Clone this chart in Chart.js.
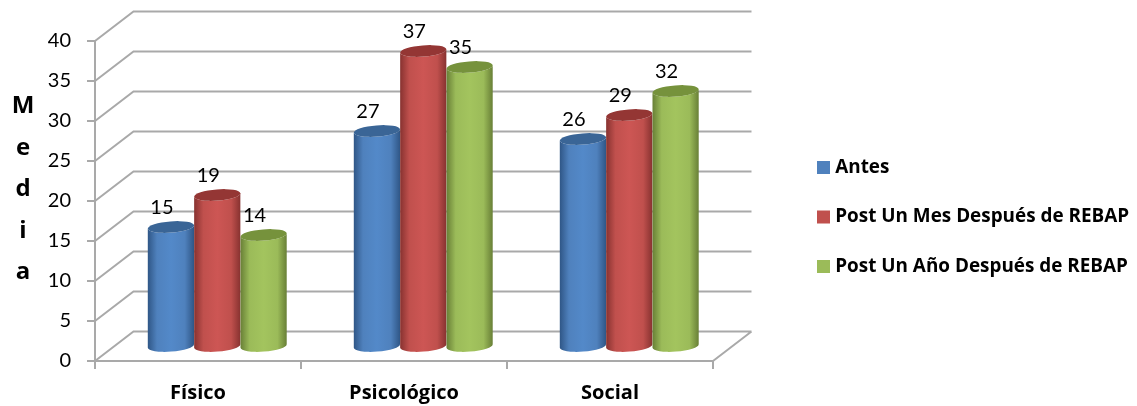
<!DOCTYPE html>
<html lang="es">
<head>
<meta charset="utf-8">
<title>Media por dimensión</title>
<script src="https://cdn.jsdelivr.net/npm/chart.js@4/dist/chart.umd.min.js"></script>
<style>
  html, body { margin: 0; padding: 0; background: #ffffff; }
  canvas { display: block; }
</style>
</head>
<body>
<canvas id="chart" width="1137" height="406"></canvas>
<script>
const categories = ['Físico', 'Psicológico', 'Social'];
const seriesNames = ['Antes', 'Post Un Mes Después de REBAP', 'Post Un Año Después de REBAP'];
const antes = [15, 27, 26];
const postUnMes = [19, 37, 29];
const postUnAno = [14, 35, 32];
const axisTitleLetters = ['M', 'e', 'd', 'i', 'a'];

const FONT = 'Lato, Carlito, Calibri, sans-serif';
const BOLD_FONT = '"Open Sans", Lato, sans-serif';
const GRID = '#a9a9a9';
// Depth of the box: the walls sit this far behind the front plane.
const DEPTH_X = 38.5;
const DEPTH_Y = -29.5;
// Cylinders stand midway along the floor's depth.
const BAR_SHIFT_X = DEPTH_X / 2;
const BAR_SHIFT_Y = DEPTH_Y / 2 + 0.75;
const TILT = -0.08;
const CAP_RY = 5.6;

const palette = [
  { base: '#4f81bd', light: '#5389c9', edge: '#2f5686', cap: '#3a6596' },
  { base: '#c0504d', light: '#cd5654', edge: '#873230', cap: '#943634' },
  { base: '#9bbb59', light: '#a3c45e', edge: '#687f36', cap: '#76923c' }
];

function wallGrid(chart) {
  const { ctx, scales: { x, y } } = chart;
  ctx.save();
  ctx.strokeStyle = GRID;
  ctx.lineWidth = 2;
  ctx.beginPath();
  y.ticks.forEach(t => {
    const py = y.getPixelForValue(t.value);
    ctx.moveTo(x.left, py);
    ctx.lineTo(x.left + DEPTH_X, py + DEPTH_Y);
    ctx.lineTo(x.right + DEPTH_X, py + DEPTH_Y);
  });
  const floor = y.getPixelForValue(0);
  ctx.moveTo(x.right, floor);
  ctx.lineTo(x.right + DEPTH_X, floor + DEPTH_Y);
  ctx.stroke();
  ctx.restore();
}

function cylinder(ctx, bar, colors) {
  const { x, y, base, width } = bar.getProps(['x', 'y', 'base', 'width'], true);
  const cx = x + BAR_SHIFT_X;
  const top = y + BAR_SHIFT_Y;
  const bottom = base + BAR_SHIFT_Y;
  const rx = width / 2;

  const shade = ctx.createLinearGradient(cx - rx, 0, cx + rx, 0);
  shade.addColorStop(0, colors.edge);
  shade.addColorStop(0.2, colors.base);
  shade.addColorStop(0.5, colors.light);
  shade.addColorStop(0.8, colors.base);
  shade.addColorStop(1, colors.edge);

  ctx.beginPath();
  ctx.ellipse(cx, bottom, rx, CAP_RY, TILT, 0, Math.PI);
  ctx.ellipse(cx, top, rx, CAP_RY, TILT, Math.PI, 0, true);
  ctx.closePath();
  ctx.fillStyle = shade;
  ctx.fill();

  ctx.beginPath();
  ctx.ellipse(cx, top, rx, CAP_RY, TILT, 0, Math.PI * 2);
  ctx.fillStyle = colors.cap;
  ctx.fill();
}

const box3d = {
  id: 'box3d',
  afterLayout(chart) {
    // The plot keeps its reserved space; the legend is then placed beside it.
    const legend = chart.legend;
    const labels = legend.options.labels;
    const h = legend.height;
    legend.left = 821.25 - labels.padding;
    legend.right = chart.width;
    legend.width = legend.right - legend.left;
    legend.top = 167.5 - labels.font.size / 2 - labels.padding;
    legend.bottom = legend.top + h;
  },
  beforeDatasetsDraw(chart) {
    const ctx = chart.ctx;
    wallGrid(chart);
    chart.data.datasets.forEach((ds, i) => {
      chart.getDatasetMeta(i).data.forEach(bar => cylinder(ctx, bar, palette[i]));
    });
    return false;
  },
  afterDraw(chart) {
    const ctx = chart.ctx;
    ctx.save();
    ctx.fillStyle = '#000000';
    ctx.textAlign = 'center';
    ctx.textBaseline = 'alphabetic';

    // Value labels, up and to the left of each cap
    ctx.font = '20px ' + FONT;
    chart.data.datasets.forEach((ds, i) => {
      chart.getDatasetMeta(i).data.forEach((bar, j) => {
        const p = bar.getProps(['x', 'y'], true);
        ctx.fillText(String(ds.data[j]), p.x + BAR_SHIFT_X - 9, p.y + BAR_SHIFT_Y - 13);
      });
    });

    // Axis title, one letter per line
    ctx.font = 'bold 24px ' + BOLD_FONT;
    axisTitleLetters.forEach((ch, i) => {
      ctx.fillText(ch, 23, 113 + i * 41.5);
    });
    ctx.restore();
  }
};

new Chart(document.getElementById('chart'), {
  type: 'bar',
  data: {
    labels: categories,
    datasets: [
      { label: seriesNames[0], data: antes, backgroundColor: palette[0].base },
      { label: seriesNames[1], data: postUnMes, backgroundColor: palette[1].base },
      { label: seriesNames[2], data: postUnAno, backgroundColor: palette[2].base }
    ]
  },
  plugins: [box3d],
  options: {
    responsive: false,
    animation: false,
    layout: { padding: { left: 0, top: 41, right: 124, bottom: 0 } },
    datasets: { bar: { categoryPercentage: 0.675, barPercentage: 1 } },
    scales: {
      x: {
        afterFit(s) { s.height = 45; },
        border: { color: GRID, width: 2 },
        grid: { color: GRID, lineWidth: 2, drawOnChartArea: false, tickLength: 8, offset: true },
        ticks: { color: '#000000', padding: 12, font: { family: BOLD_FONT, size: 20, weight: 'bold' } }
      },
      y: {
        min: 0,
        max: 40,
        afterFit(s) { s.width = 95; },
        border: { color: GRID, width: 2 },
        grid: { color: GRID, lineWidth: 2, drawOnChartArea: false, tickLength: 8 },
        ticks: { stepSize: 5, color: '#000000', padding: 16, font: { family: FONT, size: 20 } }
      }
    },
    plugins: {
      tooltip: { enabled: false },
      legend: {
        position: 'right',
        align: 'start',
        maxWidth: 300,
        labels: {
          usePointStyle: true,
          pointStyle: 'rect',
          boxWidth: 4.5,
          boxHeight: 13,
          padding: 30.6,
          color: '#000000',
          font: { family: BOLD_FONT, size: 18.9, weight: 'bold' }
        }
      }
    }
  }
});
</script>
</body>
</html>
